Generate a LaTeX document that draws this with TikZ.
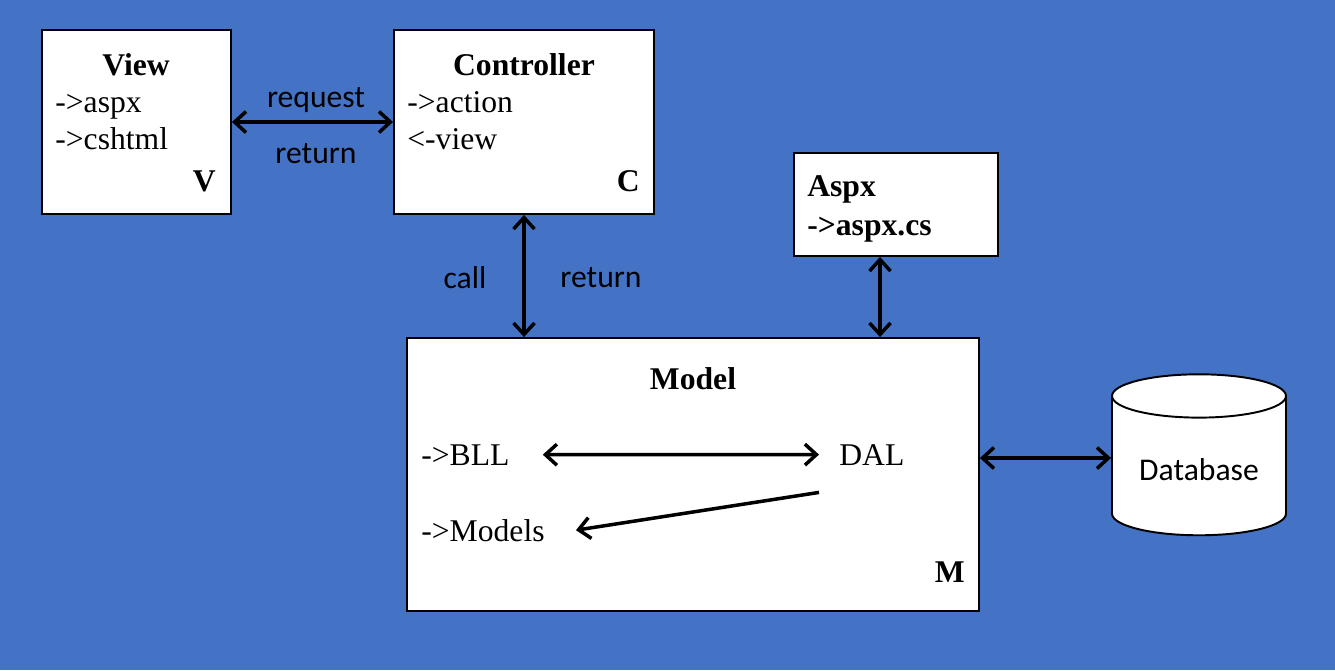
\documentclass[tikz,border=0pt]{standalone}
\usepackage{fontspec}
\setmainfont{Liberation Serif}
\newfontfamily\calibri{Carlito}
\usetikzlibrary{arrows.meta,shapes.geometric}
\definecolor{slideblue}{RGB}{68,114,196}

\begin{document}
\begin{tikzpicture}[x=0.02cm,y=-0.02cm,
    box/.style={draw=black,fill=white,line width=1.1pt,rectangle,inner sep=0pt},
    txt/.style={font=\fontsize{18}{21}\selectfont,anchor=base west,inner sep=0pt},
    head/.style={txt,font=\fontsize{18}{21}\selectfont\bfseries,anchor=base},
    lbl/.style={font=\calibri\fontsize{18}{21}\selectfont,anchor=base,inner sep=0pt},
    link/.style={line width=2pt,>={Straight Barb[length=2.3mm,width=4.2mm]}}]
    \fill[slideblue] (0,0) rectangle (1335,670);
    \useasboundingbox (0,0) rectangle (1335,670);

    % the four boxes
    \node[box,minimum width=3.78cm,minimum height=3.68cm] (view) at (136.5,122) {};
    \node[box,minimum width=5.2cm,minimum height=3.68cm] (ctrl) at (524,122) {};
    \node[box,minimum width=4.08cm,minimum height=2.06cm] (aspx) at (896,204.5) {};
    \node[box,minimum width=11.44cm,minimum height=5.46cm] (model) at (693,474.5) {};
    \node[cylinder,shape border rotate=90,aspect=0.33,draw=black,fill=white,line width=1.1pt,
        minimum width=3.48cm,minimum height=3.22cm,font=\calibri\fontsize{18}{21}\selectfont]
        (db) at (1199,470) {Database};

    \node[head] (viewhead) at (136,75) {View};
    \node[txt] (aspxitem) at (55,112) {->aspx};
    \node[txt] (cshtml) at (55,149) {->cshtml};
    \node[head,anchor=base east] (vmark) at (216,191) {V};

    \node[head] (ctrlhead) at (524,75) {Controller};
    \node[txt] (action) at (407,112) {->action};
    \node[txt] (backview) at (407,149) {<-view};
    \node[head,anchor=base east] (cmark) at (640,191) {C};

    \node[head,anchor=base west] (aspxhead) at (807,196) {Aspx};
    \node[head,anchor=base west] (aspxcs) at (807,235) {->aspx.cs};

    \node[head] (modelhead) at (693,389) {Model};
    \node[txt] (bll) at (421,465) {->BLL};
    \node[txt] (dal) at (839,465) {DAL};
    \node[txt] (models) at (421,541) {->Models};
    \node[head,anchor=base east] (mmark) at (965,582) {M};

    % labels on the links
    \foreach \n/\x/\y/\t in {req/316/107/request,ret/316/163/return,call/465/288/call,back/601/287/return}
        \node[lbl] (\n) at (\x,\y) {\t};

    \coordinate (aspxfoot) at ([xshift=-0.32cm]aspx.south);
    \coordinate (dbfoot) at (model.east |- 0,458);
    \draw[link,<->] (view) -- (ctrl);
    \draw[link,<->] (ctrl) -- (ctrl |- model.north);
    \draw[link,<->] (aspxfoot) -- (aspxfoot |- model.north);
    \draw[link,<->] (dbfoot) -- (dbfoot -| db.west);
    \draw[link,<->] ([xshift=0.66cm]bll.east) -- ([xshift=-0.4cm]dal.west);
    \draw[link,->] ([xshift=-0.4cm,yshift=-0.54cm]dal.south west) -- ([xshift=0.62cm]models.east);
\end{tikzpicture}
\end{document}
